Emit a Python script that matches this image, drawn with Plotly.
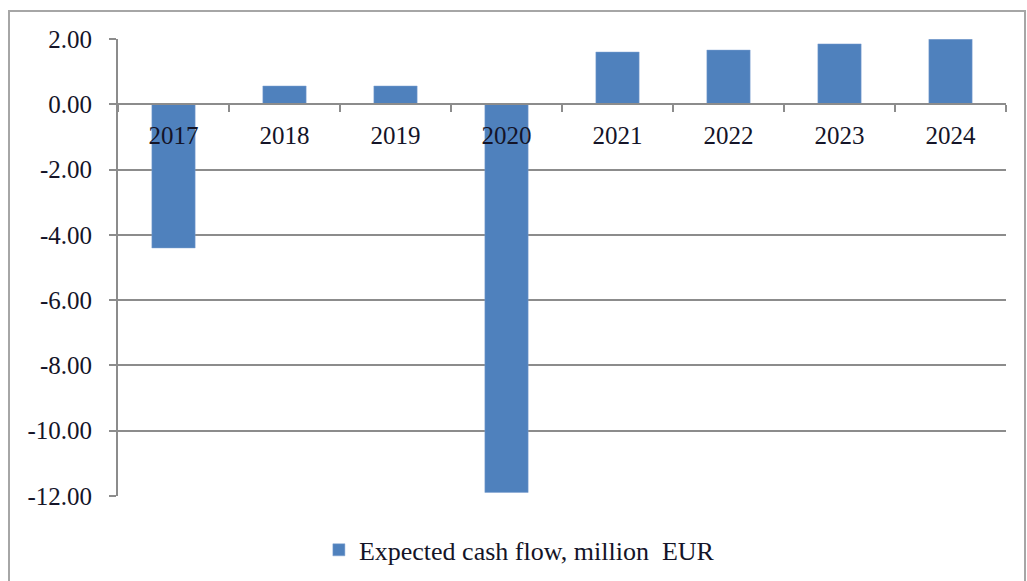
import plotly.graph_objects as go

years = ["2017", "2018", "2019", "2020", "2021", "2022", "2023", "2024"]
cash_flow = [-4.40, 0.56, 0.56, -11.89, 1.60, 1.66, 1.85, 1.99]
y_ticks = [2, 0, -2, -4, -6, -8, -10, -12]
y_tick_text = ["2.00", "0.00", "-2.00", "-4.00", "-6.00", "-8.00", "-10.00", "-12.00"]

W, H = 1027, 581
ml, mr, mt, mb = 118, 21, 39, 85
ymin, ymax = -12, 2

fig = go.Figure()
fig.add_trace(go.Bar(
    x=years, y=cash_flow, name="Expected cash flow, million  EUR",
    marker=dict(color="#4f81bd", line=dict(color="#7ea1d0", width=0.5)),
    showlegend=True,
))

font_fam = "Liberation Serif, Times New Roman, serif"
txt_col = "#141428"
fsize = 25
zero_pos = (0 - ymin) / (ymax - ymin)

fig.update_layout(
    width=W, height=H,
    margin=dict(l=ml, r=mr, t=mt, b=mb, autoexpand=False),
    paper_bgcolor="white", plot_bgcolor="white",
    bargap=0.61,
    font=dict(family=font_fam, size=fsize, color=txt_col),
    showlegend=True,
    legend=dict(orientation="h", x=0.452, xanchor="center", y=-0.118, yanchor="middle",
                font=dict(family=font_fam, size=fsize + 1, color=txt_col),
                itemwidth=30),
    xaxis=dict(
        type="category", anchor="free", position=zero_pos, automargin=False,
        showline=True, linecolor="#8c8c8c", linewidth=2,
        ticks="outside", tickson="boundaries", ticklen=7, tickcolor="#8c8c8c", tickwidth=2,
        showgrid=False, zeroline=False,
        ticklabelstandoff=9,
        tickfont=dict(family=font_fam, size=fsize, color=txt_col),
    ),
    yaxis=dict(
        range=[ymin, ymax], tickvals=y_ticks, ticktext=y_tick_text, automargin=False,
        showline=True, linecolor="#8c8c8c", linewidth=2, mirror=False,
        ticks="outside", ticklen=7, tickcolor="#8c8c8c", tickwidth=2,
        showgrid=True, gridcolor="#8c8c8c", gridwidth=2,
        zeroline=False,
        ticklabelstandoff=12,
        tickfont=dict(family=font_fam, size=fsize, color=txt_col),
    ),
    shapes=[dict(type="rect", xref="paper", yref="paper",
                 x0=-(ml - 9) / (W - ml - mr), x1=1 + (mr - 2) / (W - ml - mr),
                 y0=-(mb + 5) / (H - mt - mb), y1=1 + (mt - 11) / (H - mt - mb),
                 line=dict(color="#a6a6a6", width=2), layer="below")],
)

fig.write_html("out.html")
